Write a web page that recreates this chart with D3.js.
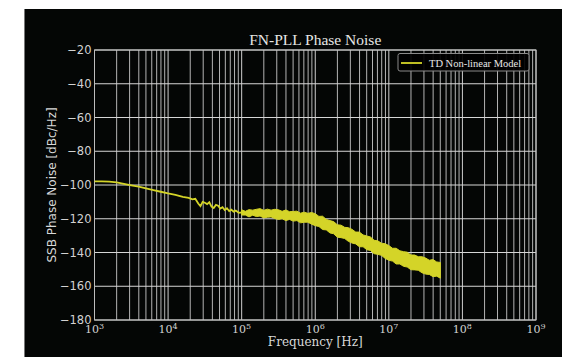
<!DOCTYPE html>
<html><head><meta charset="utf-8">
<script src="https://cdn.jsdelivr.net/npm/d3@7"></script>
<style>html,body{margin:0;padding:0;background:#fff;}svg{display:block;}</style>
</head><body>
<svg id="c" width="562" height="357"></svg>
<script>
// ---- data (frequency given as log10 exponent, values in dBc/Hz) ----
const titleText = "FN-PLL Phase Noise";
const xLabel = "Frequency [Hz]";
const yLabel = "SSB Phase Noise [dBc/Hz]";
const seriesName = "TD Non-linear Model";
const yTicks = [-20,-40,-60,-80,-100,-120,-140,-160,-180];
const xTickExps = [3,4,5,6,7,8,9];

// low-frequency part (thin trace)
const lowExp = [3.00,3.10,3.20,3.30,3.40,3.50,3.60,3.70,3.80,3.90,4.00,4.10,4.20,4.28,4.33,4.37,4.41,4.44,4.47,4.50,4.53,4.56,4.59,4.62,4.65,4.68,4.71,4.74,4.77,4.80,4.83,4.86,4.89,4.92,4.96,5.00,5.04];
const lowDb  = [-97.8,-97.8,-98.0,-98.5,-99.3,-100.2,-101.0,-102.0,-103.0,-104.0,-105.0,-105.8,-107.0,-107.6,-108.5,-108.2,-111.0,-112.5,-110.0,-110.5,-111.3,-110.2,-112.8,-113.6,-111.8,-112.3,-114.0,-113.2,-114.8,-113.8,-115.4,-114.6,-115.8,-115.2,-116.5,-116.2,-116.6];

// high-frequency noisy part (envelope of the trace)
const bandExp = [5.00,5.05,5.10,5.15,5.20,5.25,5.30,5.35,5.40,5.45,5.50,5.55,5.60,5.65,5.70,5.75,5.80,5.85,5.90,5.95,6.00,6.05,6.10,6.15,6.20,6.25,6.30,6.35,6.40,6.45,6.50,6.55,6.60,6.65,6.70,6.75,6.80,6.85,6.90,6.95,7.00,7.05,7.10,7.15,7.20,7.25,7.30,7.35,7.40,7.45,7.50,7.55,7.60,7.65,7.70];
const bandUpper = [-114.7,-115.6,-114.6,-114.9,-114.4,-114.0,-115.0,-114.3,-114.9,-114.4,-114.7,-115.6,-114.8,-115.8,-115.7,-115.5,-116.7,-116.1,-116.8,-116.3,-117.0,-118.6,-118.5,-120.4,-121.1,-121.7,-123.6,-123.8,-125.1,-125.3,-126.3,-127.9,-127.9,-129.6,-130.2,-130.8,-132.8,-133.1,-134.5,-134.8,-135.9,-137.5,-137.5,-139.0,-139.5,-139.8,-141.5,-141.5,-142.5,-142.5,-143.3,-144.6,-144.2,-145.6,-145.9];
const bandLower = [-117.8,-117.8,-118.9,-117.9,-118.7,-118.4,-119.5,-119.1,-118.9,-119.9,-120.4,-120.0,-121.1,-120.4,-121.4,-121.1,-122.4,-122.1,-122.0,-123.2,-124.1,-124.6,-126.4,-126.6,-128.4,-128.9,-130.9,-131.2,-131.7,-133.4,-134.4,-134.9,-136.6,-136.6,-138.3,-138.8,-140.7,-141.1,-141.7,-143.5,-144.6,-145.1,-146.8,-146.8,-148.2,-148.6,-150.2,-150.3,-150.5,-152.0,-152.8,-153.0,-154.3,-154.0,-155.2];

// ---- drawing ----
const svg = d3.select("#c");
const L = 94.5, R = 536, T = 50, B = 320;
const x = d3.scaleLog().domain([1e3, 1e9]).range([L, R]);
const y = d3.scaleLinear().domain([-180, -20]).range([B, T]);
const lineColor = "#d4d428";

// figure background
svg.append("rect").attr("x", 24).attr("y", 9).attr("width", 538).attr("height", 348).attr("fill", "#040605");
svg.append("line").attr("x1", 24.5).attr("x2", 24.5).attr("y1", 9).attr("y2", 357).attr("stroke", "#777").attr("stroke-width", 1);

// grid
const g = svg.append("g");
const minor = [];
for (let d = 3; d < 9; d++) for (let k = 1; k <= 9; k++) minor.push(k * Math.pow(10, d));
minor.push(1e9);
g.selectAll("line.vx").data(minor).enter().append("line")
  .attr("x1", d => x(d)).attr("x2", d => x(d)).attr("y1", T).attr("y2", B)
  .attr("stroke", d => xTickExps.some(e => Math.abs(Math.pow(10, e) - d) < 1) ? "#cfcfcf" : "#b4b4b4")
  .attr("stroke-width", 1);
g.selectAll("line.hy").data(yTicks).enter().append("line")
  .attr("x1", L).attr("x2", R).attr("y1", d => y(d)).attr("y2", d => y(d))
  .attr("stroke", "#d6d6d6").attr("stroke-width", 1);

// axes frame
svg.append("rect").attr("x", L).attr("y", T).attr("width", R - L).attr("height", B - T)
  .attr("fill", "none").attr("stroke", "#bdbdbd").attr("stroke-width", 1);

// trace
const bandData = bandExp.map((e, i) => ({f: Math.pow(10, e), hi: bandUpper[i], lo: bandLower[i]}));
const lowData = lowExp.map((e, i) => ({f: Math.pow(10, e), v: lowDb[i]}));
svg.append("path").datum(bandData)
  .attr("d", d3.area().x(d => x(d.f)).y0(d => y(d.lo)).y1(d => y(d.hi)))
  .attr("fill", lineColor).attr("stroke", lineColor).attr("stroke-width", 1).attr("stroke-linejoin", "miter");
svg.append("path").datum(lowData)
  .attr("d", d3.line().x(d => x(d.f)).y(d => y(d.v)))
  .attr("fill", "none").attr("stroke", lineColor).attr("stroke-width", 1.8);

// y tick labels
svg.selectAll("text.yt").data(yTicks).enter().append("text")
  .attr("x", L - 3).attr("y", d => y(d)).attr("dy", "0.36em")
  .attr("text-anchor", "end").attr("fill", "#d2d2d2")
  .attr("font-family", "DejaVu Sans").attr("font-size", 11.5)
  .text(d => d < 0 ? "\u2212" + Math.abs(d) : d);

// x tick labels 10^n
const xt = svg.selectAll("text.xt").data(xTickExps).enter().append("text")
  .attr("x", e => x(Math.pow(10, e))).attr("y", B + 13)
  .attr("text-anchor", "middle").attr("fill", "#d2d2d2")
  .attr("font-family", "DejaVu Serif").attr("font-size", 11);
xt.append("tspan").text("10");
xt.append("tspan").attr("dy", -4).attr("font-size", 8).text(e => e);

// title and axis labels
svg.append("text").attr("x", (L + R) / 2).attr("y", 45).attr("text-anchor", "middle")
  .attr("fill", "#e6e6e6").attr("font-family", "Liberation Serif").attr("font-size", 15.5).text(titleText);
svg.append("text").attr("x", (L + R) / 2).attr("y", 346).attr("text-anchor", "middle")
  .attr("fill", "#d8d8d8").attr("font-family", "DejaVu Serif").attr("font-size", 12).text(xLabel);
svg.append("text").attr("transform", `translate(56,${(T + B) / 2}) rotate(-90)`).attr("text-anchor", "middle")
  .attr("fill", "#d8d8d8").attr("font-family", "DejaVu Sans").attr("font-size", 12).text(yLabel);

// legend
const lg = svg.append("g");
lg.append("rect").attr("x", 398).attr("y", 53.5).attr("width", 131).attr("height", 17.5).attr("rx", 2)
  .attr("fill", "#000").attr("fill-opacity", 0.92).attr("stroke", "#8a8a8a").attr("stroke-width", 1);
lg.append("line").attr("x1", 401).attr("x2", 422).attr("y1", 63).attr("y2", 63)
  .attr("stroke", lineColor).attr("stroke-width", 1.8);
lg.append("text").attr("x", 429).attr("y", 66.5).attr("fill", "#e8e8e8")
  .attr("font-family", "Liberation Serif").attr("font-size", 10.5).text(seriesName);
</script>
</body></html>
